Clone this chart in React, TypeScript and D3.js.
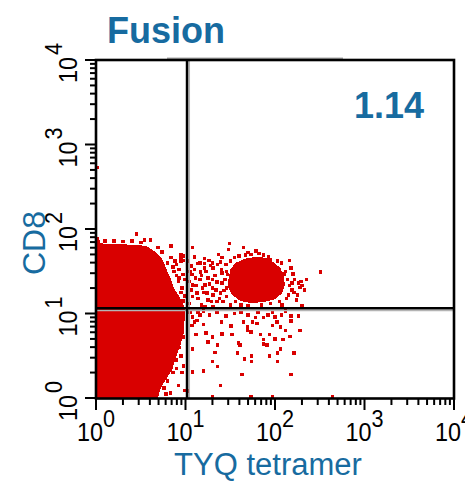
import React from "react";
import * as d3 from "d3";

// Flow cytometry dot plot: CD8 vs TYQ tetramer (log10 decades, 10^0..10^4)
const W = 465;
const H = 481;

const decades = [0, 1, 2, 3, 4];
const tickLabels = ["0", "1", "2", "3", "4"];
const title = "Fusion";
const quadrantPercent = "1.14";
const xTitle = "TYQ tetramer";
const yTitle = "CD8";

// Quadrant gate position (fluorescence units)
const gateX = 10.4;
const gateY = 11.5;

// Dense CD8 low / tetramer negative population outline, [log TYQ, log CD8]
const mainPopulation: [number, number][] = [
  [0, 0], [0.69, 0], [0.72, 0.1], [0.75, 0.17], [0.8, 0.25], [0.85, 0.33],
  [0.88, 0.44], [0.92, 0.56], [0.95, 0.65], [0.98, 0.77], [0.99, 0.92],
  [0.99, 1.07], [0.96, 1.14], [0.92, 1.22], [0.87, 1.3], [0.84, 1.4],
  [0.8, 1.49], [0.77, 1.57], [0.73, 1.66], [0.66, 1.73], [0.58, 1.79],
  [0.49, 1.81], [0.27, 1.82], [0.045, 1.83], [0.034, 1.9], [0, 1.92],
];

// Tetramer-positive cluster outline, [log TYQ, log CD8]
const tetramerPopulation: [number, number][] = [
  [1.48, 1.4], [1.5, 1.52], [1.56, 1.6], [1.67, 1.65], [1.78, 1.67],
  [1.89, 1.66], [1.98, 1.61], [2.06, 1.54], [2.1, 1.44], [2.11, 1.34],
  [2.08, 1.24], [2.0, 1.17], [1.89, 1.14], [1.74, 1.12], [1.61, 1.15],
  [1.52, 1.22], [1.48, 1.3],
];

// Individual events outside the dense regions, [log TYQ, log CD8]
const sparseEvents: [number, number][] = [
  [0.01, 2.73], [0.45, 1.94], [0.54, 1.87], [0.61, 1.87], [0.69, 1.78],
  [0.74, 1.73], [0.84, 1.8], [0.95, 1.7], [0.95, 1.66], [0.95, 1.62],
  [0.98, 1.68], [0.98, 1.63], [1.08, 1.78], [1.1, 1.67], [1.14, 1.59],
  [1.21, 1.65], [1.21, 1.59], [1.21, 1.54], [1.26, 1.63], [1.3, 1.6],
  [1.37, 1.7], [1.41, 1.66], [1.39, 1.61], [1.48, 1.76], [1.49, 1.83],
  [1.65, 1.78], [1.67, 1.69], [1.73, 1.7], [1.79, 1.74], [1.87, 1.69],
  [1.93, 1.67], [2.07, 1.6], [2.16, 1.63], [2.18, 1.54], [2.1, 1.47],
  [2.2, 1.47], [2.51, 1.49], [2.26, 1.36], [2.29, 1.38], [2.3, 1.33],
  [2.28, 1.31], [2.19, 1.36], [2.19, 1.28], [2.16, 1.33], [2.21, 1.25],
  [2.24, 1.16], [2.13, 1.18], [2.08, 1.1], [2.3, 1.09], [1.63, 1.25],
  [1.62, 1.1],
  [1.07, 1.46], [1.16, 1.4], [1.22, 1.34], [1.3, 1.3], [1.35, 1.37],
  [1.39, 1.24], [1.13, 1.24], [1.08, 1.2], [1.25, 1.16], [1.42, 1.14],
  [1.18, 1.1], [1.31, 1.08], [1.5, 1.1], [1.06, 1.56], [1.17, 1.49],
  [1.31, 1.54], [1.41, 1.48], [1.44, 1.4], [1.08, 1.34], [1.31, 1.22],
  [1.46, 1.3], [1.04, 1.12], [1.22, 1.08], [1.35, 1.14], [1.11, 1.42],
  [1.25, 1.42], [1.2, 1.25], [1.41, 1.36], [1.3, 1.4],
  [1.03, 1.62], [1.05, 1.5], [1.04, 1.38], [1.06, 1.28], [1.1, 1.52],
  [1.12, 1.33], [1.14, 1.18], [1.16, 1.6], [1.18, 1.45], [1.19, 1.3],
  [1.23, 1.5], [1.24, 1.24], [1.27, 1.35], [1.28, 1.57], [1.29, 1.14],
  [1.33, 1.45], [1.34, 1.28], [1.36, 1.58], [1.38, 1.18], [1.4, 1.52],
  [1.43, 1.27], [1.45, 1.58], [1.46, 1.2], [1.47, 1.46], [1.49, 1.36],
  [1.5, 1.62], [1.52, 1.5], [1.54, 1.3], [1.55, 1.66], [1.58, 1.2],
  [1.6, 1.68], [1.7, 1.72], [1.82, 1.71], [1.95, 1.64], [2.03, 1.62],
  [2.12, 1.5], [2.14, 1.4], [2.15, 1.22], [2.05, 1.14], [1.95, 1.12],
  [1.85, 1.1], [1.7, 1.09], [1.56, 1.14], [1.46, 1.5], [2.22, 1.4],
  [2.25, 1.22], [2.33, 1.28], [2.35, 1.4],
  [0.9, 1.58], [0.93, 1.52], [0.97, 1.46], [0.99, 1.4], [0.96, 1.3],
  [0.99, 1.21], [0.88, 1.62], [0.84, 1.66], [0.8, 1.6], [0.86, 1.55],
  [0.9, 1.45], [0.92, 1.38], [0.95, 1.25], [0.97, 1.15], [0.93, 1.42],
  [0.87, 1.5], [0.1, 1.86], [0.2, 1.86], [0.3, 1.85], [0.4, 1.86],
  [0.5, 1.84],
  [1.05, 1.01], [1.08, 0.96], [1.13, 0.92], [1.07, 0.86], [1.16, 0.98],
  [1.14, 1.02], [1.12, 0.75], [1.23, 0.77], [1.3, 0.72], [1.25, 0.66],
  [1.36, 0.63], [1.41, 0.76], [1.51, 0.85], [1.52, 0.75], [1.08, 0.58],
  [1.33, 0.54], [1.3, 0.43], [1.59, 0.65], [1.58, 0.53], [1.36, 0.37],
  [1.2, 0.32], [1.08, 0.31], [1.39, 0.15], [1.03, 0.08], [1.3, 0.01],
  [1.62, 1.02], [1.7, 0.98], [1.81, 1.02], [1.87, 0.95], [1.97, 1.01],
  [2.0, 0.96], [2.07, 0.98], [2.18, 0.97], [2.26, 0.97], [1.65, 0.9],
  [1.75, 0.9], [1.8, 0.88], [1.97, 0.86], [2.18, 0.91], [1.69, 0.84],
  [1.69, 0.8], [2.06, 0.84], [2.12, 0.8], [2.28, 0.8], [1.73, 0.78],
  [1.84, 0.75], [1.94, 0.75], [2.17, 0.73], [2.0, 0.7], [2.09, 0.69],
  [1.87, 0.69], [1.87, 0.64], [1.91, 0.63], [1.61, 0.63], [2.06, 0.58],
  [2.03, 0.53], [2.21, 0.53], [1.74, 0.5], [1.94, 0.5], [1.66, 0.46],
  [1.74, 0.43], [2.03, 0.43], [1.63, 0.28], [2.18, 0.28], [1.73, 0.01],
  [1.97, 0.01], [2.64, 0.01],
  [1.2, 1.03], [1.27, 0.98], [1.35, 1.01], [1.45, 0.97], [1.55, 1.0],
  [1.92, 0.98], [2.12, 1.03], [1.1, 0.9], [1.2, 0.87], [1.4, 0.9],
  [1.78, 0.95], [2.02, 0.9],
  [0.98, 0.38], [0.9, 0.35], [0.92, 0.15], [0.83, 0.06], [0.96, 0.3],
  [0.99, 0.09], [0.95, 0.5], [0.9, 0.45], [0.86, 0.3], [0.8, 0.2],
  [0.76, 0.12], [0.78, 0.05], [0.93, 0.6], [0.97, 0.72],
];

const BLUE = "#176ba0";
const RED = "#d90000";
const FONT = "'Liberation Sans', Arial, Helvetica, sans-serif";

export default function App() {
  const x = d3.scaleLog().domain([1, 1e4]).range([96, 454]);
  const y = d3.scaleLog().domain([1, 1e4]).range([398, 60]);
  const px = (v: number) => x(Math.pow(10, v));
  const py = (v: number) => y(Math.pow(10, v));

  const line = d3
    .line<[number, number]>()
    .x((d) => px(d[0]))
    .y((d) => py(d[1]))
    .curve(d3.curveLinearClosed);

  const majors = decades.map((d) => Math.pow(10, d));
  const minors: number[] = [];
  decades.slice(0, -1).forEach((d) => {
    for (let m = 2; m <= 9; m++) minors.push(m * Math.pow(10, d));
  });

  const gx = x(gateX);
  const gy = y(gateY);
  const cell = 3.5;

  return (
    <svg
      width={W}
      height={H}
      viewBox={`0 0 ${W} ${H}`}
      style={{ position: "absolute", left: 0, top: 0, background: "#fff" }}
      fontFamily={FONT}
    >
      <rect x={0} y={0} width={W} height={H} fill="#fff" />

      {/* populations */}
      <g shapeRendering="crispEdges">
        <path d={line(mainPopulation) ?? ""} fill={RED} />
        <path d={line(tetramerPopulation) ?? ""} fill={RED} />
        {sparseEvents.map((e, i) => (
          <rect
            key={i}
            x={px(e[0]) - cell / 2}
            y={py(e[1]) - cell / 2}
            width={cell}
            height={cell}
            fill={RED}
          />
        ))}
      </g>

      {/* quadrant gate */}
      <line x1={gx + 2.2} x2={gx + 2.2} y1={60} y2={398} stroke="#b4b4b4" strokeWidth={1.6} />
      <line x1={96} x2={454} y1={gy + 2.2} y2={gy + 2.2} stroke="#b4b4b4" strokeWidth={1.6} />
      <line x1={gx} x2={gx} y1={60} y2={398} stroke="#000" strokeWidth={2.5} />
      <line x1={96} x2={454} y1={gy} y2={gy} stroke="#000" strokeWidth={2.5} />

      {/* frame */}
      <line x1={167} x2={343} y1={58.3} y2={58.3} stroke="#aaa" strokeWidth={1.5} />
      <rect x={96} y={60} width={358} height={338.5} fill="none" stroke="#000" strokeWidth={2.6} />

      {/* axis ticks */}
      <g stroke="#000" strokeWidth={2}>
        {majors.map((v, i) => (
          <line key={"xm" + i} x1={x(v)} x2={x(v)} y1={399} y2={410} />
        ))}
        {minors.map((v, i) => (
          <line key={"xn" + i} x1={x(v)} x2={x(v)} y1={399} y2={405} />
        ))}
        {majors.map((v, i) => (
          <line key={"ym" + i} x1={96} x2={85} y1={y(v)} y2={y(v)} />
        ))}
        {minors.map((v, i) => (
          <line key={"yn" + i} x1={96} x2={90} y1={y(v)} y2={y(v)} />
        ))}
      </g>

      {/* x tick labels */}
      {majors.map((v, i) => (
        <g key={"xl" + i}>
          <text
            transform={`translate(${x(v) + 7},441) scale(0.9,1)`}
            textAnchor="end"
            fontSize={26}
            fill="#000"
          >
            10
          </text>
          <text
            transform={`translate(${x(v) + 7},427) scale(0.9,1)`}
            textAnchor="start"
            fontSize={24}
            fill="#000"
          >
            {tickLabels[i]}
          </text>
        </g>
      ))}

      {/* y tick labels */}
      {majors.map((v, i) => (
        <g key={"yl" + i} transform={`translate(77,${y(v)}) rotate(-90)`}>
          <text transform="translate(3,0) scale(0.9,1)" textAnchor="end" fontSize={26} fill="#000">
            10
          </text>
          <text transform="translate(5,-15) scale(0.9,1)" textAnchor="start" fontSize={24} fill="#000">
            {tickLabels[i]}
          </text>
        </g>
      ))}

      {/* titles */}
      <text x={107} y={43} fontSize={36} fontWeight="bold" fill={BLUE}>
        {title}
      </text>
      <text x={424} y={118} fontSize={36} fontWeight="bold" fill={BLUE} textAnchor="end">
        {quadrantPercent}
      </text>
      <text x={268} y={475} fontSize={31} fill={BLUE} textAnchor="middle">
        {xTitle}
      </text>
      <text transform="translate(45,243) rotate(-90)" fontSize={32} fill={BLUE} textAnchor="middle">
        {yTitle}
      </text>
    </svg>
  );
}
